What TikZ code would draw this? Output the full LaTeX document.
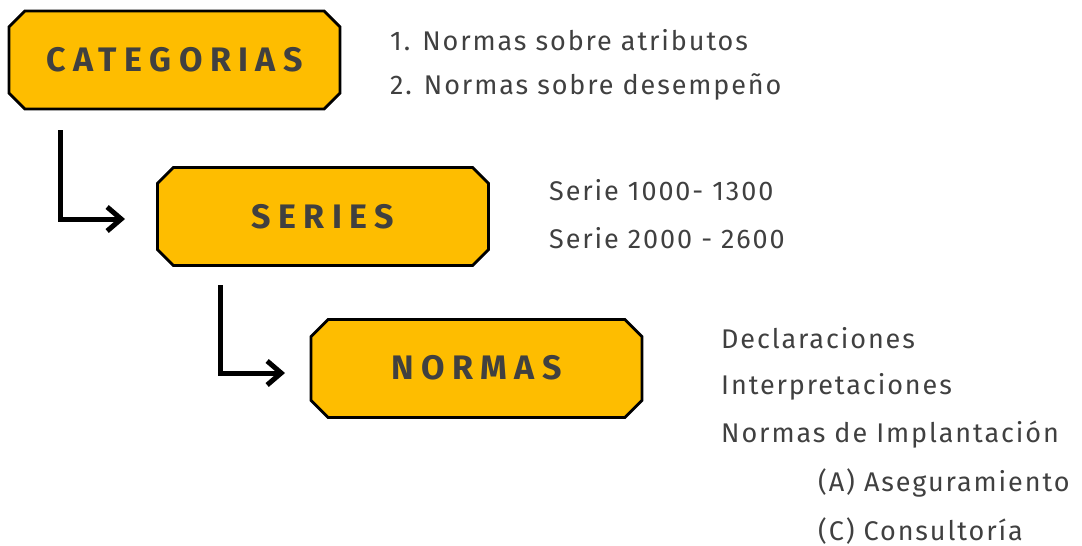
\documentclass[tikz,border=0pt]{standalone}
\usepackage{fontspec}
\setmainfont{Fira Sans}
\usepackage{xcolor}
\usetikzlibrary{shapes.misc,arrows.meta}

\definecolor{amarillo}{RGB}{254,189,0}
\definecolor{gristexto}{RGB}{64,64,64}

\tikzset{
	caja/.style={chamfered rectangle, chamfered rectangle xsep=15pt,
		draw=black, line width=2.8pt, fill=amarillo,
		minimum width=331pt, minimum height=98pt, inner sep=0pt, text=gristexto,
		font=\fontsize{34}{40}\selectfont\bfseries\addfontfeature{LetterSpace=22}},
	item/.style={anchor=west, inner sep=0pt, text=gristexto,
		font=\fontsize{27}{31}\selectfont\addfontfeature{LetterSpace=7}},
	flecha/.style={line width=5pt, -{Straight Barb[length=14pt,width=24pt]}}
}

\begin{document}
\begin{tikzpicture}[x=1pt,y=-1pt]
	\useasboundingbox (0,0) rectangle (1082,546);

	\node[caja] (cat) at (174.5,60) {\raisebox{-6pt}{CATEGORIAS}};
	\node[caja] (ser) at (323,216.5) {SERIES};
	\node[caja] (nor) at (476.5,368.5) {\raisebox{3pt}{NORMAS}};

	\coordinate (f1) at (60,130);
	\coordinate (p1) at (125,219);
	\coordinate (f2) at (220,285);
	\coordinate (p2) at (285,373);
	\draw[flecha] (f1) |- (p1);
	\draw[flecha] (f2) |- (p2);

	\foreach \y/\t/\n in {40/1. Normas sobre atributos/c1,87/2. Normas sobre desempeño/c2}
		\node[item] (\n) at (390,\y) {\t};
	\foreach \y/\t/\n in {190/Serie 1000- 1300/s1,238/Serie 2000 - 2600/s2}
		\node[item] (\n) at (549,\y) {\t};
	\foreach \y/\t/\n in {338/Declaraciones/n1,387/Interpretaciones/n2,435/Normas de Implantación/n3}
		\node[item] (\n) at (721,\y) {\t};
	\foreach \y/\t/\n in {483/(A) Aseguramiento/n4,531/(C) Consultoría/n5}
		\node[item] (\n) at (818,\y) {\t};
\end{tikzpicture}
\end{document}
